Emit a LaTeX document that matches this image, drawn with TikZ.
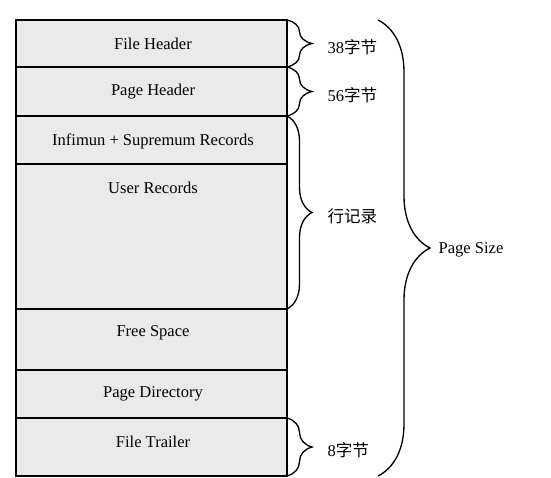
\documentclass[tikz,border=0pt]{standalone}
\usepackage{fontspec}
\setmainfont{Liberation Serif}
\newfontfamily\cjkfont{Noto Sans CJK SC}
\usetikzlibrary{decorations.pathreplacing}
\definecolor{partgray}{RGB}{234,234,234}
\tikzset{every picture/.style={line width=0.75pt}}
\tikzset{
  part/.style={draw, fill=partgray, line width=1.5pt},
  parttext/.style={inner sep=0.75pt, font=\fontsize{12.4}{15}\selectfont},
  smallbrace/.style={decorate, line width=1pt, decoration={brace, amplitude=18.75pt}},
  bigbrace/.style={decorate, line width=1pt, decoration={brace, amplitude=39pt}},
  bracetext/.style={anchor=west, inner sep=0.75pt, yshift=-3pt, font=\fontsize{12.4}{15}\selectfont},
}

\begin{document}
\begin{tikzpicture}[x=0.75pt,y=0.75pt,yscale=-1,xscale=1]
\useasboundingbox (0,0) rectangle (551,478);

%Page parts
\draw[part] (16,20) rectangle (287,67);
\draw[part] (16,67) rectangle (287,116);
\draw[part] (16,116) rectangle (287,164);
\draw[part] (16,164) rectangle (287,309);
\draw[part] (16,309) rectangle (287,370);
\draw[part] (16,370) rectangle (287,418);
\draw[part] (16,418) rectangle (287,476);

% Text Node
\node[parttext] (fileheader) at (153,44) {File Header};
\node[parttext] (pageheader) at (153,92) {Page Header};
\node[parttext] (infsup) at (153,141) {Infimun + Supremum Records};
\node[parttext] (userrec) at (153,188) {User Records};
\node[parttext] (freespace) at (153,333) {Free Space};
\node[parttext] (pagedir) at (153,394) {Page Directory};
\node[parttext] (trailer) at (153,442) {File Trailer};

%Brace ends
\coordinate (e0) at (287,20);
\coordinate (e1) at (287,67);
\coordinate (e2) at (287,116);
\coordinate (e3) at (287,309);
\coordinate (e4) at (287,418);
\coordinate (e5) at (287,476);
\coordinate (s0) at (378,20);
\coordinate (s1) at (378,476);

%Braces
\draw[smallbrace] (e0) -- (e1) node[bracetext, midway, xshift=29.25pt] (lfh) {38\cjkfont 字节};
\draw[smallbrace] (e1) -- (e2) node[bracetext, midway, xshift=29.25pt] (lph) {56\cjkfont 字节};
\draw[smallbrace] (e2) -- (e3) node[bracetext, midway, xshift=29.25pt] (lrow) {\cjkfont 行记录};
\draw[smallbrace] (e4) -- (e5) node[bracetext, midway, xshift=29.25pt, yshift=1pt] (lft) {8\cjkfont 字节};
\draw[bigbrace] (s0) -- (s1) node[bracetext, midway, xshift=44.25pt, yshift=2pt] (lsize) {Page Size};

\end{tikzpicture}
\end{document}
